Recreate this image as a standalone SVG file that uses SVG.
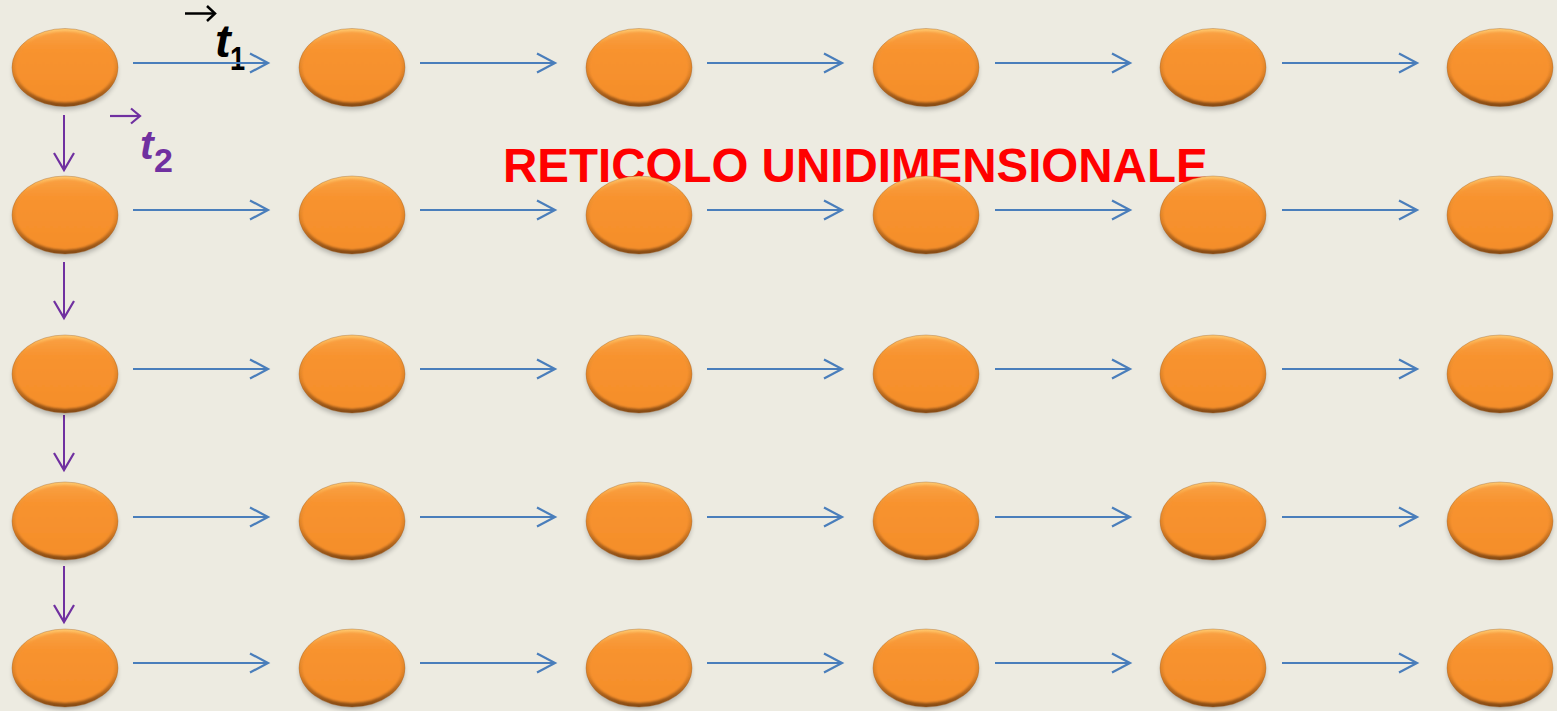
<svg xmlns="http://www.w3.org/2000/svg" xmlns:xlink="http://www.w3.org/1999/xlink" width="1557" height="711" viewBox="0 0 1557 711">
  <style>
    .bg { fill: #EDEBE1; }
    .link-x { stroke: #4A7EBB; stroke-width: 2; fill: none; marker-end: url(#head-blue); }
    .link-y { stroke: #7030A0; stroke-width: 2; fill: none; marker-end: url(#head-purple); }
    .title { font-family: "Liberation Sans", Arial, sans-serif; font-weight: bold; font-size: 47.5px; fill: #FF0000; }
    .vec { font-family: "Liberation Sans", Arial, sans-serif; font-weight: bold; }
  </style>
  <defs>
    <marker id="head-blue" markerUnits="userSpaceOnUse" viewBox="-21 -12 24 24" markerWidth="24" markerHeight="24" refX="0" refY="0" orient="auto" overflow="visible">
      <path d="M-18,-9.5 L0,0 L-18,9.5" fill="none" stroke="#4A7EBB" stroke-width="2.2"/>
    </marker>
    <marker id="head-purple" markerUnits="userSpaceOnUse" viewBox="-21 -12 24 24" markerWidth="24" markerHeight="24" refX="0" refY="0" orient="auto" overflow="visible">
      <path d="M-17,-10 L0,0 L-17,10" fill="none" stroke="#7030A0" stroke-width="2.2"/>
    </marker>
    <linearGradient id="rim" x1="0" y1="0" x2="0" y2="1">
      <stop offset="0" stop-color="#FFC86E"/>
      <stop offset="0.2" stop-color="#F79A38"/>
      <stop offset="0.6" stop-color="#DC7F26"/>
      <stop offset="1" stop-color="#844914"/>
    </linearGradient>
    <linearGradient id="body" x1="0" y1="0" x2="0" y2="1">
      <stop offset="0" stop-color="#F9A043"/>
      <stop offset="0.25" stop-color="#F8932F"/>
      <stop offset="1" stop-color="#F48E2B"/>
    </linearGradient>
    <filter id="soft" x="-20%" y="-20%" width="140%" height="150%">
      <feGaussianBlur stdDeviation="2.5"/>
    </filter>
    <filter id="edge" x="-10%" y="-10%" width="120%" height="120%">
      <feGaussianBlur stdDeviation="1"/>
    </filter>
    <!-- one orange bead, centred on the origin -->
    <g id="bead">
      <ellipse cx="0" cy="4" rx="52" ry="38" fill="#000" opacity="0.25" filter="url(#soft)"/>
      <ellipse cx="0" cy="0" rx="53" ry="39" fill="url(#rim)" stroke="#9A5A1E" stroke-opacity="0.45" stroke-width="0.8"/>
      <ellipse cx="0" cy="-0.5" rx="50" ry="35.5" fill="url(#body)" filter="url(#edge)"/>
    </g>
  </defs>

  <rect class="bg" x="0" y="0" width="1557" height="711"/>

  <!-- title sits behind the beads -->
  <text id="title" class="title" x="503" y="182">RETICOLO UNIDIMENSIONALE</text>

  <!-- lattice vectors -->
  <g id="label-t1">
    <path d="M185,13.5 H214" stroke="#000" stroke-width="2.5" fill="none"/>
    <path d="M207,6 L215,13.5 L207,21" stroke="#000" stroke-width="2.5" fill="none"/>
    <text class="vec" x="215" y="57" font-size="47" font-style="italic" fill="#000">t</text>
    <text class="vec" x="230" y="70" font-size="34" fill="#000" transform="translate(230 0) scale(0.8 1) translate(-230 0)">1</text>
  </g>
  <g id="label-t2">
    <path d="M110,116 H139" stroke="#7030A0" stroke-width="2.2" fill="none"/>
    <path d="M131,108.5 L140,116 L131,123.5" stroke="#7030A0" stroke-width="2.2" fill="none"/>
    <text class="vec" x="140" y="159" font-size="41" font-style="italic" fill="#7030A0">t</text>
    <text class="vec" x="154" y="172" font-size="34" fill="#7030A0">2</text>
  </g>

  <!-- connectors -->
  <g id="connectors">
    <g id="links-x">
      <path class="link-x" d="M133,63 H268"/><path class="link-x" d="M420,63 H555"/><path class="link-x" d="M707,63 H842"/><path class="link-x" d="M995,63 H1130"/><path class="link-x" d="M1282,63 H1417"/>
      <path class="link-x" d="M133,210 H268"/><path class="link-x" d="M420,210 H555"/><path class="link-x" d="M707,210 H842"/><path class="link-x" d="M995,210 H1130"/><path class="link-x" d="M1282,210 H1417"/>
      <path class="link-x" d="M133,369 H268"/><path class="link-x" d="M420,369 H555"/><path class="link-x" d="M707,369 H842"/><path class="link-x" d="M995,369 H1130"/><path class="link-x" d="M1282,369 H1417"/>
      <path class="link-x" d="M133,517 H268"/><path class="link-x" d="M420,517 H555"/><path class="link-x" d="M707,517 H842"/><path class="link-x" d="M995,517 H1130"/><path class="link-x" d="M1282,517 H1417"/>
      <path class="link-x" d="M133,663 H268"/><path class="link-x" d="M420,663 H555"/><path class="link-x" d="M707,663 H842"/><path class="link-x" d="M995,663 H1130"/><path class="link-x" d="M1282,663 H1417"/>
    </g>
    <g id="links-y">
      <path class="link-y" d="M64,115 V170"/>
      <path class="link-y" d="M64,262 V318"/>
      <path class="link-y" d="M64,415 V470"/>
      <path class="link-y" d="M64,566 V622"/>
    </g>
  </g>

  <!-- lattice points -->
  <g id="nodes">
    <g id="n-1-1"><use xlink:href="#bead" x="65" y="67.5"/></g>
    <g id="n-1-2"><use xlink:href="#bead" x="352" y="67.5"/></g>
    <g id="n-1-3"><use xlink:href="#bead" x="639" y="67.5"/></g>
    <g id="n-1-4"><use xlink:href="#bead" x="926" y="67.5"/></g>
    <g id="n-1-5"><use xlink:href="#bead" x="1213" y="67.5"/></g>
    <g id="n-1-6"><use xlink:href="#bead" x="1500" y="67.5"/></g>

    <g id="n-2-1"><use xlink:href="#bead" x="65" y="215"/></g>
    <g id="n-2-2"><use xlink:href="#bead" x="352" y="215"/></g>
    <g id="n-2-3"><use xlink:href="#bead" x="639" y="215"/></g>
    <g id="n-2-4"><use xlink:href="#bead" x="926" y="215"/></g>
    <g id="n-2-5"><use xlink:href="#bead" x="1213" y="215"/></g>
    <g id="n-2-6"><use xlink:href="#bead" x="1500" y="215"/></g>

    <g id="n-3-1"><use xlink:href="#bead" x="65" y="374"/></g>
    <g id="n-3-2"><use xlink:href="#bead" x="352" y="374"/></g>
    <g id="n-3-3"><use xlink:href="#bead" x="639" y="374"/></g>
    <g id="n-3-4"><use xlink:href="#bead" x="926" y="374"/></g>
    <g id="n-3-5"><use xlink:href="#bead" x="1213" y="374"/></g>
    <g id="n-3-6"><use xlink:href="#bead" x="1500" y="374"/></g>

    <g id="n-4-1"><use xlink:href="#bead" x="65" y="521"/></g>
    <g id="n-4-2"><use xlink:href="#bead" x="352" y="521"/></g>
    <g id="n-4-3"><use xlink:href="#bead" x="639" y="521"/></g>
    <g id="n-4-4"><use xlink:href="#bead" x="926" y="521"/></g>
    <g id="n-4-5"><use xlink:href="#bead" x="1213" y="521"/></g>
    <g id="n-4-6"><use xlink:href="#bead" x="1500" y="521"/></g>

    <g id="n-5-1"><use xlink:href="#bead" x="65" y="668"/></g>
    <g id="n-5-2"><use xlink:href="#bead" x="352" y="668"/></g>
    <g id="n-5-3"><use xlink:href="#bead" x="639" y="668"/></g>
    <g id="n-5-4"><use xlink:href="#bead" x="926" y="668"/></g>
    <g id="n-5-5"><use xlink:href="#bead" x="1213" y="668"/></g>
    <g id="n-5-6"><use xlink:href="#bead" x="1500" y="668"/></g>
  </g>
</svg>
